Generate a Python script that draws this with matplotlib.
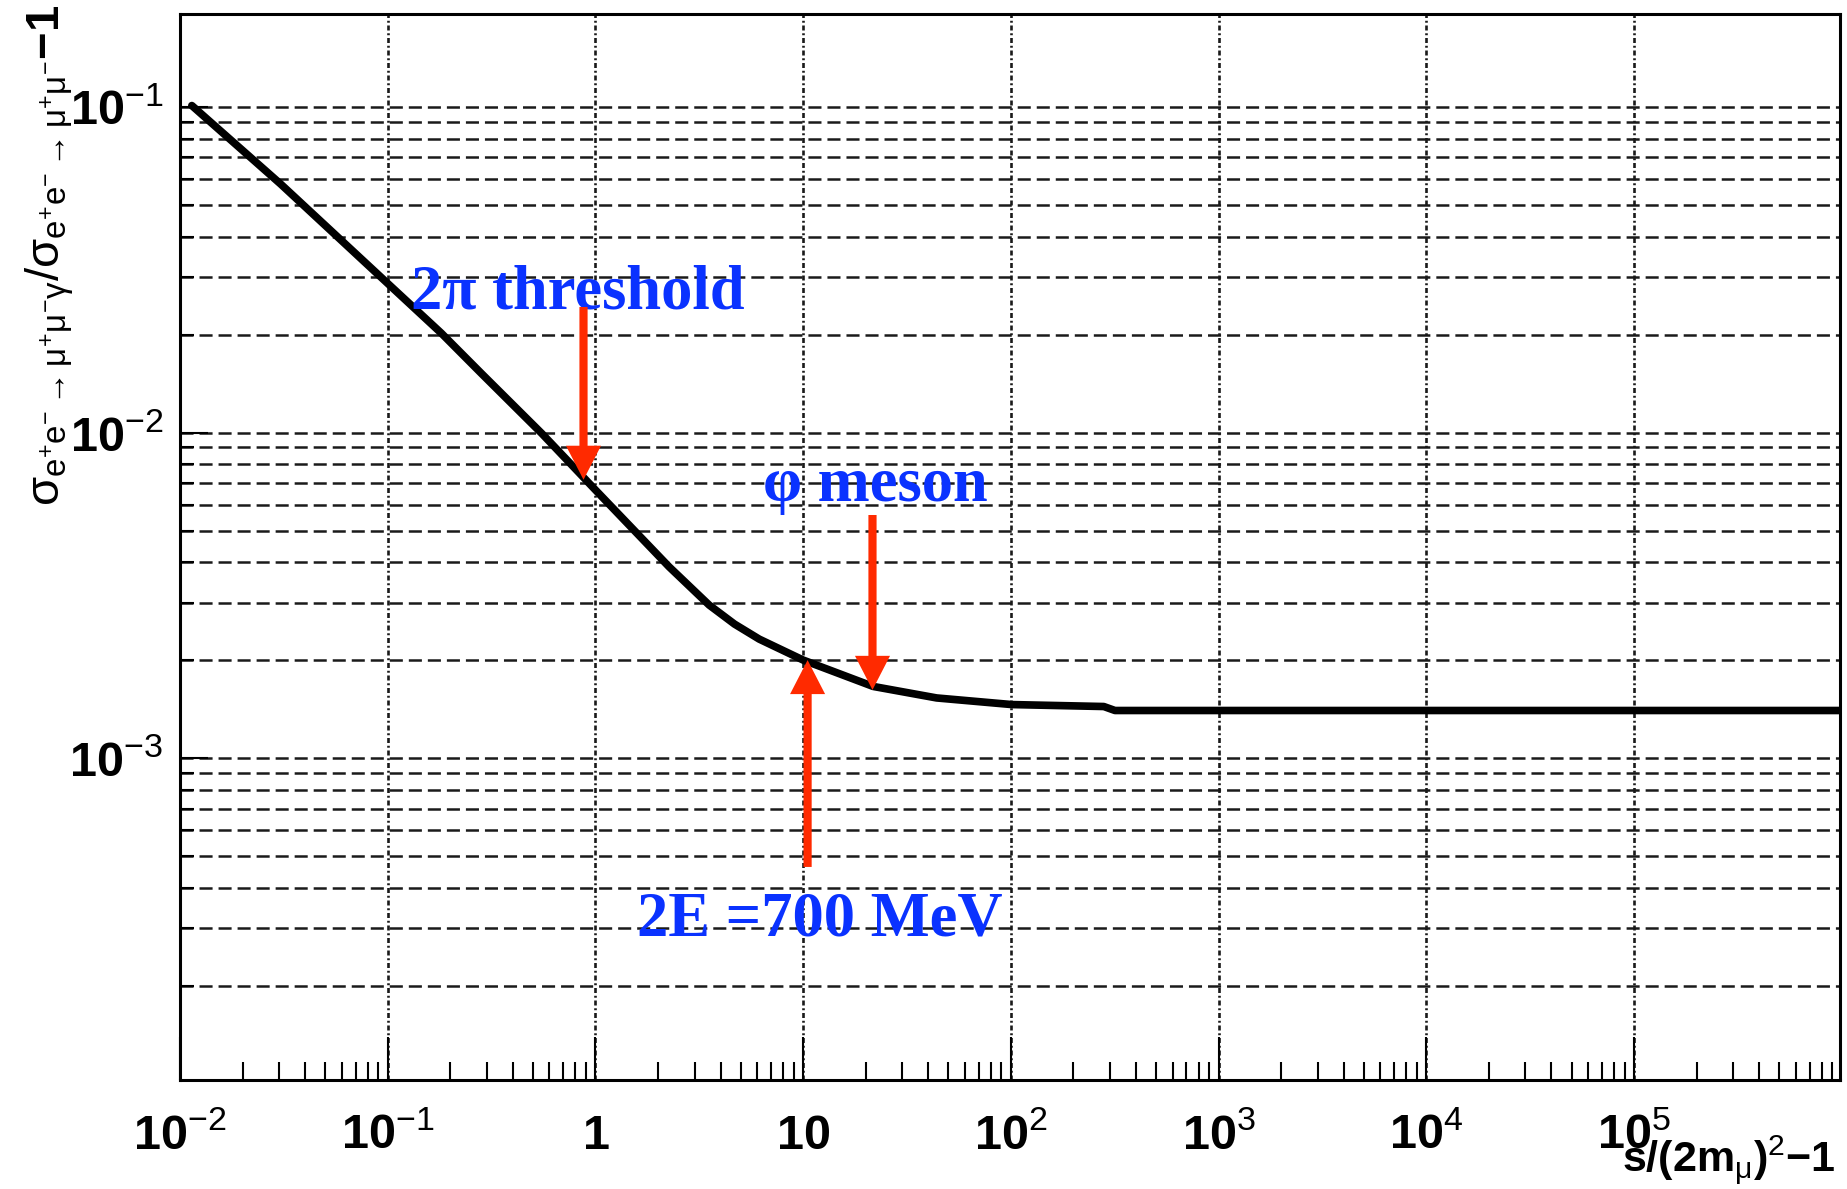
import numpy as np
import matplotlib
matplotlib.use("Agg")
import matplotlib.pyplot as plt
from matplotlib.ticker import LogLocator, NullFormatter

plt.rcParams['lines.scale_dashes'] = False
plt.rcParams['font.family'] = 'Liberation Sans'
plt.rcParams['mathtext.fontset'] = 'custom'
plt.rcParams['mathtext.rm'] = 'Liberation Sans'
plt.rcParams['mathtext.it'] = 'Liberation Sans:italic'
plt.rcParams['mathtext.bf'] = 'Liberation Sans:bold'
plt.rcParams['mathtext.default'] = 'regular'

# correction vs s/(2m_mu)^2 - 1
x_vals = [0.0114, 0.0305, 0.1, 0.181, 0.282, 0.551, 1.0, 2.26, 3.53, 4.67,
          6.14, 10.0, 21.7, 43.9, 101, 280, 317, 9.67e5]
y_vals = [0.101, 0.058, 0.0287, 0.0202, 0.0152, 0.00994, 0.00666, 0.00387,
          0.00295, 0.00258, 0.00232, 0.0020, 0.00166, 0.00153, 0.00146,
          0.00144, 0.00140, 0.00140]

x_ticks = [1e-2, 1e-1, 1, 10, 1e2, 1e3, 1e4, 1e5]
x_tick_labels = [r'$\mathbf{10}^{-2}$', r'$\mathbf{10}^{-1}$', r'$\mathbf{1}$',
                 r'$\mathbf{10}$', r'$\mathbf{10}^{2}$', r'$\mathbf{10}^{3}$',
                 r'$\mathbf{10}^{4}$', r'$\mathbf{10}^{5}$']
y_ticks = [1e-3, 1e-2, 1e-1]
y_tick_labels = [r'$\mathbf{10}^{-3}$', r'$\mathbf{10}^{-2}$', r'$\mathbf{10}^{-1}$']

# annotations: text anchor and vertical arrow (tail -> tip)
notes = ["2π threshold", "φ meson", "2E =700 MeV"]
note_x = [0.1297, 6.43, 1.585]
note_y = [0.0241, 0.00617, 2.86e-4]
arrow_x = [0.876, 21.56, 10.5]
arrow_from = [0.0243, 0.00558, 4.63e-4]
arrow_to = [0.00716, 0.00162, 0.002]

W, H = 1847, 1189
fig = plt.figure(figsize=(W / 100, H / 100), dpi=100)
ax = fig.add_axes([180 / W, 1 - 1080 / H, (1840 - 180) / W, (1080 - 14) / H])

ax.plot(x_vals, y_vals, color='black', lw=5.5, solid_joinstyle='round',
        solid_capstyle='round', zorder=3)

ax.set_xscale('log')
ax.set_yscale('log')
ax.set_xlim(1e-2, 9.8e5)
ax.set_ylim(1.026e-4, 0.193)

ax.set_xticks(x_ticks, x_tick_labels)
ax.set_yticks(y_ticks, y_tick_labels)
for axis in (ax.xaxis, ax.yaxis):
    axis.set_minor_locator(LogLocator(base=10, subs=np.arange(2, 10), numticks=100))
    axis.set_minor_formatter(NullFormatter())

ax.tick_params(axis='x', which='major', direction='in', length=31, width=1.5,
               pad=49.7, labelsize=35, top=False)
ax.tick_params(axis='x', which='minor', direction='in', length=13, width=1.5, top=False)
ax.tick_params(axis='y', which='major', direction='in', length=20, width=1.5,
               pad=12, labelsize=35, right=False)
ax.tick_params(axis='y', which='minor', direction='in', length=10, width=1.5, right=False)
for lbl in ax.get_xticklabels():
    lbl.set_va('baseline')

ax.grid(True, which='both', axis='y', color='#1a1a1a', lw=1.8,
        linestyle=(0, (9.4, 4.3)))
ax.grid(True, which='major', axis='x', color='#1a1a1a', lw=1.9,
        linestyle=(0, (3.6, 2.0, 1.4, 2.0)))
ax.set_axisbelow(True)

for sp in ax.spines.values():
    sp.set_linewidth(2.2)

for txt, tx, ty in zip(notes, note_x, note_y):
    ax.text(tx, ty, txt, color='#0a32ff', fontsize=45, fontweight='bold',
            family='Liberation Serif', ha='left', va='baseline', zorder=4)

for xa, y0, y1 in zip(arrow_x, arrow_from, arrow_to):
    ax.annotate('', xy=(xa, y1), xytext=(xa, y0),
                arrowprops=dict(arrowstyle='simple,head_length=1.0,head_width=1.03,tail_width=0.24',
                                mutation_scale=24.5, color='#ff2a00', lw=0,
                                shrinkA=0, shrinkB=0),
                zorder=5)

fig.text(0.027, 0.996,
         r'$\sigma_{e^{+}e^{-}\rightarrow\mu^{+}\mu^{-}\gamma}/\sigma_{e^{+}e^{-}\rightarrow\mu^{+}\mu^{-}}$'
         r'$\mathbf{-1}$',
         rotation=90, ha='center', va='top', fontsize=34)

fig.text(1836 / W, 1 - 1172 / H, r'$\mathbf{s/(2m}_{\mu}\mathbf{)}^{2}\mathbf{-1}$',
         ha='right', va='baseline', fontsize=31)

fig.savefig('out.png', dpi=100)
